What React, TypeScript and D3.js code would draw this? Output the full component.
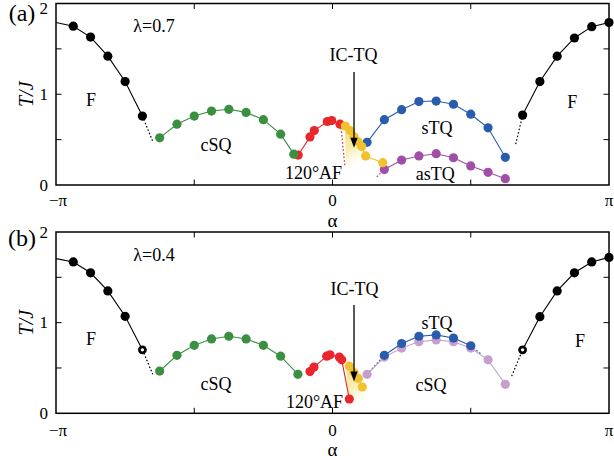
import React from "react";
import * as d3 from "d3";

const W = 614;
const H = 460;

// α is stored in units of π, T in units of J.
// ---------- panel (a), λ = 0.7 ----------
const fLeftA_alpha = [-1, -15 / 16, -14 / 16, -13 / 16, -12 / 16, -11 / 16];
const fLeftA_T = [1.79, 1.75, 1.63, 1.42, 1.14, 0.76];
const fRightA_alpha = [11 / 16, 12 / 16, 13 / 16, 14 / 16, 15 / 16, 1];
const fRightA_T = [0.77, 1.14, 1.42, 1.62, 1.745, 1.79];
const cSQA_alpha = [-0.625, -0.5625, -0.5, -0.4375, -0.375, -0.3125, -0.25, -0.1875, -0.14];
const cSQA_T = [0.52, 0.67, 0.76, 0.815, 0.834, 0.8, 0.72, 0.56, 0.34];
const afA_alpha = [-0.124, -0.0814, -0.0658, -0.0188, -0.0029, 0.0271];
const afA_T = [0.33, 0.53, 0.6, 0.7, 0.71, 0.67];
const icA_alpha = [0.0463, 0.0633, 0.0778, 0.0917, 0.1056, 0.12, 0.1816];
const icA_T = [0.65, 0.6, 0.533, 0.478, 0.423, 0.32, 0.246];
const sTQA_alpha = [0.125, 0.1875, 0.25, 0.3125, 0.375, 0.4375, 0.5, 0.5625, 0.625];
const sTQA_T = [0.47, 0.72, 0.83, 0.92, 0.925, 0.89, 0.78, 0.63, 0.305];
const asTQA_alpha = [0.1875, 0.25, 0.3125, 0.375, 0.4375, 0.5, 0.5625, 0.625];
const asTQA_T = [0.17, 0.275, 0.32, 0.345, 0.3, 0.21, 0.14, 0.07];

// ---------- panel (b), λ = 0.4 ----------
const fLeftB_alpha = [-1, -15 / 16, -14 / 16, -13 / 16, -12 / 16, -11 / 16];
const fLeftB_T = [1.706, 1.67, 1.55, 1.35, 1.07, 0.7];
const fRightB_alpha = [11 / 16, 12 / 16, 13 / 16, 14 / 16, 15 / 16, 1];
const fRightB_T = [0.7, 1.066, 1.35, 1.55, 1.67, 1.72];
const cSQB_alpha = [-0.625, -0.5625, -0.5, -0.4375, -0.375, -0.3125, -0.25, -0.1875, -0.125];
const cSQB_T = [0.466, 0.64, 0.75, 0.82, 0.85, 0.82, 0.75, 0.63, 0.43];
const afB_alpha = [-0.0814, -0.0669, -0.021, -0.009, 0.0246, 0.0333, 0.0608];
const afB_T = [0.46, 0.51, 0.63, 0.645, 0.62, 0.59, 0.158];
const icB_alpha = [0.0608, 0.0778, 0.0933, 0.1078];
const icB_T = [0.52, 0.45, 0.385, 0.29];
const cSQ2B_alpha = [0.125, 0.1875, 0.25, 0.3125, 0.375, 0.4375, 0.5, 0.5625, 0.625];
const cSQ2B_T = [0.43, 0.62, 0.72, 0.79, 0.81, 0.79, 0.72, 0.59, 0.32];
const sTQB_alpha = [0.1875, 0.25, 0.3125, 0.375, 0.4375, 0.5];
const sTQB_T = [0.64, 0.77, 0.85, 0.865, 0.83, 0.745];

// axis ticks
const xTickVals = [-1, -0.5, 0, 0.5, 1];
const xTickLabels = ["−π", "", "0", "", "π"];
const yMajor = [0, 1, 2];
const yMinor = [0.5, 1.5];

const BLACK = "#000";
const GREEN = "#3a8f40";
const RED = "#e8262b";
const YELLOW = "#f2c12e";
const BLUE = "#2a5cad";
const PURPLE = "#a14fa6";
const LILAC = "#c79fcf";

const FONT = "'Liberation Serif', 'Times New Roman', serif";

type Pt = [number, number];
const zip = (a: number[], t: number[]): Pt[] => a.map((v, i) => [v, t[i]]);

type SeriesProps = {
  pts: Pt[];
  color: string;
  x: d3.ScaleLinear<number, number>;
  y: d3.ScaleLinear<number, number>;
  noMarker?: number[];
  hollow?: number[];
  r?: number;
};

function Series({ pts, color, x, y, noMarker = [], hollow = [], r = 4.6 }: SeriesProps) {
  const line = d3.line<Pt>().x((d) => x(d[0])).y((d) => y(d[1]));
  return (
    <g>
      <path d={line(pts) || ""} fill="none" stroke={color} strokeWidth={1.1} />
      {pts.map((p, i) =>
        noMarker.includes(i) ? null : hollow.includes(i) ? (
          <g key={i}>
            <circle cx={x(p[0])} cy={y(p[1])} r={4.4} fill={color} />
            <circle cx={x(p[0])} cy={y(p[1])} r={1.7} fill="#fff" />
          </g>
        ) : (
          <circle key={i} cx={x(p[0])} cy={y(p[1])} r={r} fill={color} />
        )
      )}
    </g>
  );
}

function Dotted({ pts, color, x, y }: { pts: Pt[]; color: string; x: any; y: any }) {
  const line = d3.line<Pt>().x((d) => x(d[0])).y((d) => y(d[1]));
  return <path d={line(pts) || ""} fill="none" stroke={color} strokeWidth={1.2} strokeDasharray="1.6,2" />;
}

function Label({ x, y, a, t, text, size = 18 }: any) {
  return (
    <text x={x(a)} y={y(t)} fontSize={size} fontFamily={FONT} textAnchor="middle" dominantBaseline="central">
      {text}
    </text>
  );
}

function Arrow({ x, y, a, t0, t1 }: any) {
  const px = x(a);
  const y0 = y(t0);
  const y1 = y(t1);
  return (
    <g>
      <line x1={px} x2={px} y1={y0} y2={y1 - 8} stroke="#000" strokeWidth={1.3} />
      <path d={`M${px - 3.6},${y1 - 10} L${px + 3.6},${y1 - 10} L${px},${y1} Z`} fill="#000" />
    </g>
  );
}

function Frame({ x, y, tag, tagY, lam, alphaY, tickY }: any) {
  const [x0, x1] = x.range();
  const [yb, yt] = y.range();
  const tl = 5.5;
  return (
    <g fontFamily={FONT}>
      <rect x={x0} y={yt} width={x1 - x0} height={yb - yt} fill="none" stroke="#000" strokeWidth={1.5} />
      {xTickVals.slice(1, 4).map((v) => (
        <g key={v}>
          <line x1={x(v)} x2={x(v)} y1={yb} y2={yb - tl} stroke="#000" strokeWidth={1} />
          <line x1={x(v)} x2={x(v)} y1={yt} y2={yt + tl} stroke="#000" strokeWidth={1} />
        </g>
      ))}
      {[...yMajor.slice(1, 2), ...yMinor].map((v) => (
        <g key={v}>
          <line x1={x0} x2={x0 + tl} y1={y(v)} y2={y(v)} stroke="#000" strokeWidth={1} />
          <line x1={x1} x2={x1 - tl} y1={y(v)} y2={y(v)} stroke="#000" strokeWidth={1} />
        </g>
      ))}
      {yMajor.map((v) => (
        <text key={v} x={x0 - 8} y={Math.max(y(v), 8.5)} fontSize={17} textAnchor="end" dominantBaseline="central">
          {v}
        </text>
      ))}
      {xTickVals.map((v, i) =>
        xTickLabels[i] ? (
          <text key={v} x={x(v) + (i === 0 ? 2 : 0)} y={tickY} fontSize={17} textAnchor="middle" dominantBaseline="central">
            {xTickLabels[i]}
          </text>
        ) : null
      )}
      <text x={x(0)} y={alphaY} fontSize={19} textAnchor="middle" dominantBaseline="central">
        α
      </text>
      <text x={22} y={tagY} fontSize={24} textAnchor="middle" dominantBaseline="central">
        {tag}
      </text>
      <text
        transform={`translate(26,${y(1)}) rotate(-90)`}
        fontSize={20}
        fontStyle="italic"
        textAnchor="middle"
        dominantBaseline="central"
      >
        T/J
      </text>
      <text x={x(-0.6456)} y={y(1.75)} fontSize={18} textAnchor="middle" dominantBaseline="central">
        {lam}
      </text>
    </g>
  );
}

export default function App() {
  const xA = d3.scaleLinear().domain([-1, 1]).range([56, 609]);
  const yA = d3.scaleLinear().domain([0, 2]).range([185, 3.5]);
  const xB = xA;
  const yB = d3.scaleLinear().domain([0, 2]).range([413.3, 232]);

  // yellow haze below the IC-TQ points
  const shadeA: Pt[] = [
    [0.045, 0.64], [0.0633, 0.6], [0.0778, 0.533], [0.0917, 0.478], [0.1056, 0.423],
    [0.12, 0.32], [0.118, 0.15], [0.05, 0.15],
  ];
  const shadeB: Pt[] = [
    [0.05, 0.55], [0.0778, 0.45], [0.0933, 0.385], [0.1078, 0.29], [0.125, 0.02], [0.055, 0.02],
  ];
  const poly = (pts: Pt[], x: any, y: any) =>
    "M" + pts.map((p) => `${x(p[0])},${y(p[1])}`).join("L") + "Z";

  return (
    <svg width={W} height={H} style={{ position: "absolute", left: 0, top: 0, background: "#fff" }}>
      <defs>
        <linearGradient id="haze" x1="0" y1="0" x2="0.3" y2="1">
          <stop offset="0" stopColor="#f2dc66" stopOpacity={1} />
          <stop offset="0.55" stopColor="#f6e89a" stopOpacity={0.7} />
          <stop offset="1" stopColor="#fffbe8" stopOpacity={0} />
        </linearGradient>
      </defs>

      {/* ---------- panel (a) ---------- */}
      <path d={poly(shadeA, xA, yA)} fill="url(#haze)" />
      <Dotted pts={[[-11 / 16, 0.76], [-0.65, 0.48]]} color={BLACK} x={xA} y={yA} />
      <Dotted pts={[[0.6626, 0.45], [11 / 16, 0.77]]} color={BLACK} x={xA} y={yA} />
      <Dotted pts={[[0.031, 0.63], [0.045, 0.2]]} color={RED} x={xA} y={yA} />
      <Dotted pts={[[0.16, 0.09], [0.1875, 0.17]]} color={PURPLE} x={xA} y={yA} />
      <Series pts={zip(fLeftA_alpha, fLeftA_T)} color={BLACK} x={xA} y={yA} noMarker={[0]} />
      <Series pts={zip(fRightA_alpha, fRightA_T)} color={BLACK} x={xA} y={yA} />
      <Series pts={zip(afA_alpha, afA_T)} color={RED} x={xA} y={yA} />
      <Series pts={zip(cSQA_alpha, cSQA_T)} color={GREEN} x={xA} y={yA} />
      <Series pts={zip(sTQA_alpha, sTQA_T)} color={BLUE} x={xA} y={yA} />
      <Series pts={zip(asTQA_alpha, asTQA_T)} color={PURPLE} x={xA} y={yA} />
      <Series pts={zip(icA_alpha, icA_T)} color={YELLOW} x={xA} y={yA} />
      <Arrow x={xA} y={yA} a={0.0778} t0={1.245} t1={0.41} />
      <Frame x={xA} y={yA} tag="(a)" tagY={13} lam="λ=0.7" alphaY={220} tickY={200} />
      <g>
        <Label x={xA} y={yA} a={-0.873} t={0.937} text="F" />
        <Label x={xA} y={yA} a={-0.421} t={0.44} text="cSQ" />
        <Label x={xA} y={yA} a={-0.0687} t={0.132} text="120°AF" />
        <Label x={xA} y={yA} a={0.076} t={1.432} text="IC-TQ" />
        <Label x={xA} y={yA} a={0.378} t={0.631} text="sTQ" />
        <Label x={xA} y={yA} a={0.372} t={0.121} text="asTQ" />
        <Label x={xA} y={yA} a={0.867} t={0.918} text="F" />
      </g>

      {/* ---------- panel (b) ---------- */}
      <path d={poly(shadeB, xB, yB)} fill="url(#haze)" />
      <Dotted pts={[[-11 / 16, 0.7], [-0.65, 0.43]]} color={BLACK} x={xB} y={yB} />
      <Dotted pts={[[0.648, 0.41], [11 / 16, 0.7]]} color={BLACK} x={xB} y={yB} />
      <Dotted pts={[[0.125, 0.43], [0.1875, 0.64]]} color={BLUE} x={xB} y={yB} />
      <Dotted pts={[[0.5, 0.745], [0.535, 0.66]]} color={BLUE} x={xB} y={yB} />
      <Series pts={zip(fLeftB_alpha, fLeftB_T)} color={BLACK} x={xB} y={yB} noMarker={[0]} hollow={[5]} />
      <Series pts={zip(fRightB_alpha, fRightB_T)} color={BLACK} x={xB} y={yB} hollow={[0]} />
      <Series pts={zip(cSQB_alpha, cSQB_T)} color={GREEN} x={xB} y={yB} />
      <Series pts={zip(afB_alpha, afB_T)} color={RED} x={xB} y={yB} />
      <Series pts={zip(icB_alpha, icB_T)} color={YELLOW} x={xB} y={yB} />
      <Series pts={zip(cSQ2B_alpha, cSQ2B_T)} color={LILAC} x={xB} y={yB} />
      <Series pts={zip(sTQB_alpha, sTQB_T)} color={BLUE} x={xB} y={yB} />
      <Arrow x={xB} y={yB} a={0.0778} t0={1.195} t1={0.35} />
      <Frame x={xB} y={yB} tag="(b)" tagY={238} lam="λ=0.4" alphaY={449} tickY={430} />
      <g>
        <Label x={xB} y={yB} a={-0.873} t={0.82} text="F" />
        <Label x={xB} y={yB} a={-0.421} t={0.32} text="cSQ" />
        <Label x={xB} y={yB} a={-0.065} t={0.128} text="120°AF" />
        <Label x={xB} y={yB} a={0.0796} t={1.371} text="IC-TQ" />
        <Label x={xB} y={yB} a={0.378} t={1.0} text="sTQ" />
        <Label x={xB} y={yB} a={0.356} t={0.312} text="cSQ" />
        <Label x={xB} y={yB} a={0.895} t={0.8} text="F" />
      </g>
    </svg>
  );
}
